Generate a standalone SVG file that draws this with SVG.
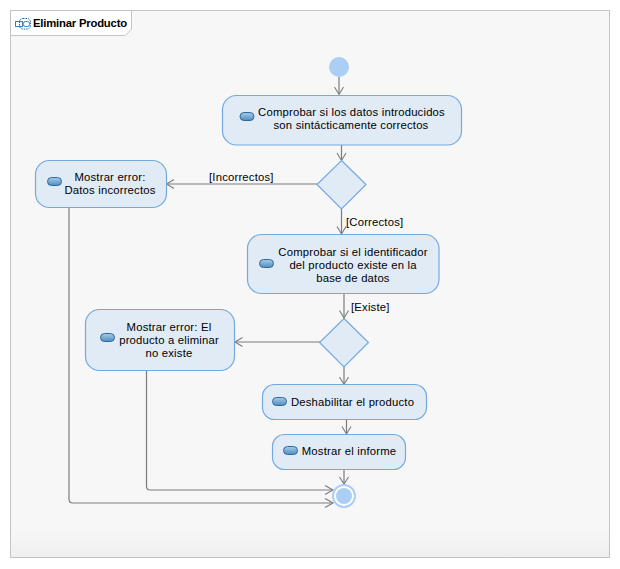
<svg xmlns="http://www.w3.org/2000/svg" width="620" height="569" viewBox="0 0 620 569">
<style>
text{font-family:"Liberation Sans",Arial,sans-serif;font-size:11.3px;letter-spacing:.19px;fill:#000}
.c{text-anchor:middle}
.n{fill:#e1ebf6;stroke:#74a9e0;stroke-width:1.2}
.e{fill:none;stroke:#7c7c7c;stroke-width:1.2}
.a{fill:none;stroke:#7c7c7c;stroke-width:1.1}
.i{fill:url(#pill);stroke:#2d6a9f;stroke-width:1}
</style>
<defs>
<linearGradient id="pill" x1="0" y1="0" x2="0" y2="1"><stop offset="0" stop-color="#a9cbe6"/><stop offset="1" stop-color="#4f8dbf"/></linearGradient>
<linearGradient id="bg" x1="0" y1="0" x2="0" y2="1"><stop offset="0" stop-color="#f7f7f7"/><stop offset=".95" stop-color="#f7f7f7"/><stop offset="1" stop-color="#efefef"/></linearGradient>
</defs>
<rect width="620" height="569" fill="#fff"/>
<g id="frame">
<rect x="10.500" y="10.500" width="599" height="547" fill="url(#bg)" stroke="#c4c4c4"/>
<path d="M10.500 10.500H131.500V29L125.500 35.500H10.500Z" fill="#fff" stroke="#c4c4c4"/>
<g fill="none">
<rect x="15.500" y="21.500" width="7" height="5" stroke="#3f7fb5"/>
<rect x="23.500" y="21.500" width="6" height="5" rx="2" stroke="#3f7fb5"/>
<rect x="19.500" y="18.500" width="11" height="10.500" rx="3.500" stroke="#1f5f99" stroke-dasharray="1.500 1"/>
</g>
<text x="33" y="27" style="font-weight:700;letter-spacing:-.2px">Eliminar Producto</text>
</g>
<g id="connectors">
<path class="e" d="M339 77V94M341.500 145V160M341.500 209V234M317 184H167M344 293V318M320 342H235M344 367V384M346.500 420V434M344 470V484"/>
<path class="e" d="M69 207V499Q69 503 73 503H332M146.500 371V486Q146.500 490 150 490H332"/>
<path class="a" d="M334.500 87L339 94.500L343.500 87M337 153L341.500 160.500L346 153M337 226.500L341.500 234L346 226.500M339.500 310.500L344 318L348.500 310.500M339.500 377L344 384.500L348.500 377M342 426.500L346.500 434L351 426.500M339.500 477L344 484L348.500 477M174 179.500L166.500 184L174 188.500M242.500 337.500L235 342L242.500 346.500M325 485.500L333 490L325 494.500M325 498.500L333 503L325 507.500"/>
<text x="209" y="181">[Incorrectos]</text>
<text x="346" y="226">[Correctos]</text>
<text x="351" y="311">[Existe]</text>
</g>
<g id="start"><circle cx="339" cy="67" r="10" fill="#abcff4"/></g>
<g id="end"><circle cx="344" cy="496" r="11" fill="#fff" stroke="#abcff4" stroke-width="2"/><circle cx="344" cy="496" r="8" fill="#abcff4"/></g>
<g id="n1"><rect class="n" x="222.500" y="95.500" width="239" height="49.500" rx="14"/><rect class="i" x="240" y="112.500" width="14" height="8" rx="4"/><text class="c" x="351.500" y="116">Comprobar si los datos introducidos</text><text class="c" x="351" y="129">son sintácticamente correctos</text></g>
<g id="d1"><path class="n" d="M341.500 160.500L366 184.500L341.500 209L317 184.500Z"/></g>
<g id="n2"><rect class="n" x="35.500" y="160.500" width="131" height="47" rx="14"/><rect class="i" x="47.500" y="177.500" width="14" height="8" rx="4"/><text class="c" x="110" y="181">Mostrar error:</text><text class="c" x="110" y="194">Datos incorrectos</text></g>
<g id="n3"><rect class="n" x="247.500" y="234.500" width="191.500" height="59" rx="14"/><rect class="i" x="259.500" y="259.500" width="14" height="8" rx="4"/><text class="c" x="353" y="256">Comprobar si el identificador</text><text class="c" x="353" y="269">del producto existe en la</text><text class="c" x="353" y="282">base de datos</text></g>
<g id="d2"><path class="n" d="M344 318.500L368.500 342.500L344 367L319.500 342.500Z"/></g>
<g id="n4"><rect class="n" x="85.500" y="309.500" width="149" height="61" rx="14"/><rect class="i" x="100.500" y="333.500" width="14" height="8" rx="4"/><text class="c" x="169" y="331">Mostrar error: El</text><text class="c" x="169" y="344">producto a eliminar</text><text class="c" x="169" y="357">no existe</text></g>
<g id="n5"><rect class="n" x="262.500" y="384.500" width="164" height="35" rx="12"/><rect class="i" x="272.500" y="397.500" width="14" height="8" rx="4"/><text class="c" x="352.500" y="406">Deshabilitar el producto</text></g>
<g id="n6"><rect class="n" x="272.500" y="434.500" width="133" height="35" rx="12"/><rect class="i" x="283.500" y="446.500" width="14" height="8" rx="4"/><text class="c" x="349" y="455">Mostrar el informe</text></g>
</svg>
